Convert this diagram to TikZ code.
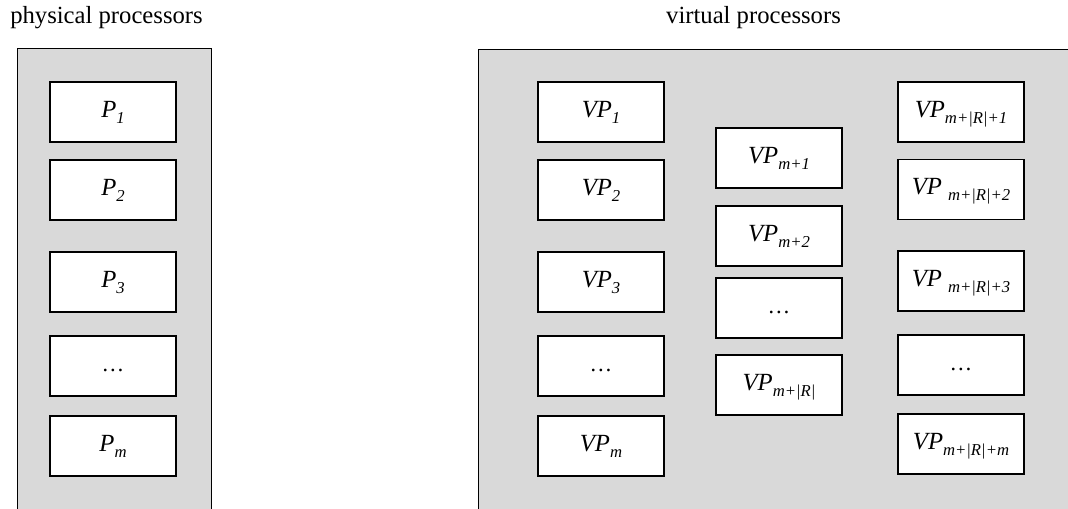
\documentclass[tikz,border=0pt]{standalone}
\usepackage{fontspec}
\setmainfont{Liberation Serif}
\usetikzlibrary{positioning}
\definecolor{panelgray}{RGB}{217,217,217}
\newcommand{\lowidx}[1]{\raisebox{-4.5pt}[0pt][0pt]{\fontsize{12.5}{13}\selectfont #1}}
\tikzset{proc/.style={draw=black,fill=white,line width=1pt,minimum width=94.5pt,minimum height=45pt,inner sep=0pt,text height=12pt,text depth=4pt,font=\fontsize{18.5}{20}\selectfont\itshape}}

\begin{document}
\begin{tikzpicture}[x=0.75pt,y=-0.75pt]
\useasboundingbox (0,0) rectangle (1068,509);
\clip (0,0) rectangle (1068,509);
% titles
\node[anchor=base,font=\fontsize{18.5}{20}\selectfont] (phystitle) at (106.5,24) {physical processors};
\node[anchor=base,font=\fontsize{18.5}{20}\selectfont] (virttitle) at (753.5,24) {virtual processors};
% panels
\draw[black,line width=0.6pt,fill=panelgray](17,48)rectangle (211,530);
\draw[black,line width=0.6pt,fill=panelgray](478,49)rectangle (1080,530);

% physical processors
\node[proc] (p1) at (113,112) {P\lowidx{1}};
\node[proc] (p2) at (113,190) {P\lowidx{2}};
\node[proc] (p3) at (113,282) {P\lowidx{3}};
\node[proc,font=\fontsize{17}{19}\selectfont] (pdots) at (113,366) {\dots};
\node[proc] (pm) at (113,446) {P\lowidx{m}};

% virtual processors, first column
\node[proc] (vp1) at (601,112) {VP\lowidx{1}};
\node[proc] (vp2) at (601,190) {VP\lowidx{2}};
\node[proc] (vp3) at (601,282) {VP\lowidx{3}};
\node[proc,font=\fontsize{17}{19}\selectfont] (vpdots) at (601,366) {\dots};
\node[proc] (vpm) at (601,446) {VP\lowidx{m}};

% second column
\node[proc] (vpma) at (779,158) {VP\lowidx{m+1}};
\node[proc] (vpmb) at (779,236) {VP\lowidx{m+2}};
\node[proc,font=\fontsize{17}{19}\selectfont] (vpmdots) at (779,308) {\dots};
\node[proc] (vpmr) at (779,385) {VP\lowidx{m+|R|}};

% third column
\node[proc] (vpra) at (961,112) {VP\lowidx{m+|R|+1}};
\node[proc] (vprb) at (961,189.5) {VP \lowidx{m+|R|+2}};
\node[proc] (vprc) at (961,281) {VP \lowidx{m+|R|+3}};
\node[proc,font=\fontsize{17}{19}\selectfont] (vprdots) at (961,365) {\dots};
\node[proc] (vprm) at (961,444) {VP\lowidx{m+|R|+m}};
\end{tikzpicture}
\end{document}
